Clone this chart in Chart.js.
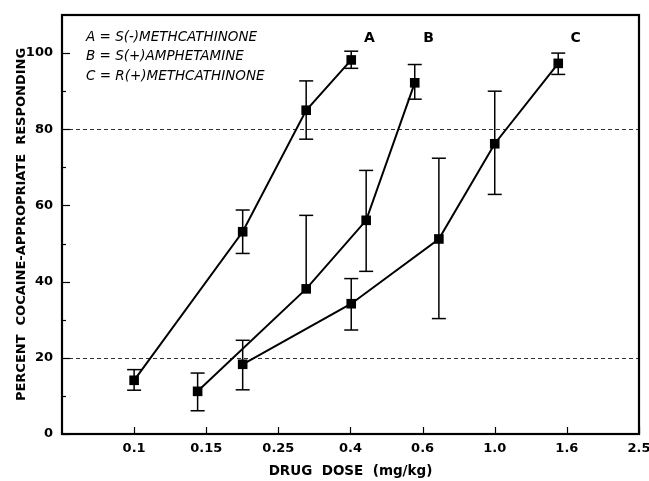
<!DOCTYPE html>
<html><head><meta charset="utf-8">
<script src="https://cdn.jsdelivr.net/npm/chart.js@4.4.1/dist/chart.umd.min.js"></script>
<style>html,body{margin:0;padding:0;background:#fff}#wrap{width:649px;height:481px;position:relative}</style>
</head><body><div id="wrap"><canvas id="c"></canvas></div>
<script>
// ---- data ----
const doseTickValues = [0.1, 0.1585, 0.2512, 0.3981, 0.631, 1.0, 1.585, 2.512];
const doseTickLabels = ['0.1', '0.15', '0.25', '0.4', '0.6', '1.0', '1.6', '2.5'];
const yTickValues = [0, 20, 40, 60, 80, 100];
const yMinorTickValues = [10, 30, 50, 70, 90];
const referenceLevels = [20, 80];
const seriesNames = ['A', 'B', 'C'];
const legendLines = ['A = S(-)METHCATHINONE', 'B = S(+)AMPHETAMINE', 'C = R(+)METHCATHINONE'];

const dosesA = [0.1, 0.2, 0.3, 0.4];
const valuesA = [14.1, 53.1, 85.0, 98.2];
const errUpA = [2.8, 5.7, 7.7, 2.3];
const errDownA = [2.6, 5.7, 7.6, 2.2];

const dosesB = [0.15, 0.3, 0.44, 0.6];
const valuesB = [11.2, 38.1, 56.1, 92.2];
const errUpB = [4.8, 19.3, 13.1, 4.8];
const errDownB = [5.1, 0, 13.4, 4.3];

const dosesC = [0.2, 0.4, 0.7, 1.0, 1.5];
const valuesC = [18.3, 34.2, 51.2, 76.2, 97.3];
const errUpC = [6.3, 6.6, 21.2, 13.8, 2.7];
const errDownC = [6.7, 6.9, 20.9, 13.3, 2.9];

// ---- build ----
const series = [
  {name: seriesNames[0], x: dosesA, y: valuesA, up: errUpA, dn: errDownA},
  {name: seriesNames[1], x: dosesB, y: valuesB, up: errUpB, dn: errDownB},
  {name: seriesNames[2], x: dosesC, y: valuesC, up: errUpC, dn: errDownC}
];
const FONT = 'DejaVu Sans';
Chart.defaults.font.family = FONT;
Chart.defaults.color = '#000';

const decor = {
  id: 'decor',
  beforeDatasetsDraw(chart) {
    const {ctx, chartArea: a, scales: {x, y}} = chart;
    ctx.save();
    ctx.strokeStyle = '#333';
    ctx.lineWidth = 1;
    ctx.setLineDash([4, 3]);
    referenceLevels.forEach(v => {
      const py = Math.round(y.getPixelForValue(v)) + 0.5;
      ctx.beginPath(); ctx.moveTo(a.left, py); ctx.lineTo(a.right, py); ctx.stroke();
    });
    ctx.setLineDash([]);
    // error bars
    ctx.strokeStyle = '#000';
    ctx.lineWidth = 1.5;
    series.forEach(s => {
      s.x.forEach((d, i) => {
        const px = x.getPixelForValue(d);
        const top = y.getPixelForValue(s.y[i] + s.up[i]);
        const bot = y.getPixelForValue(s.y[i] - s.dn[i]);
        ctx.beginPath(); ctx.moveTo(px, top); ctx.lineTo(px, bot); ctx.stroke();
        if (s.up[i] > 0) { ctx.beginPath(); ctx.moveTo(px - 7, top); ctx.lineTo(px + 7, top); ctx.stroke(); }
        if (s.dn[i] > 0) { ctx.beginPath(); ctx.moveTo(px - 7, bot); ctx.lineTo(px + 7, bot); ctx.stroke(); }
      });
    });
    ctx.restore();
  },
  afterDraw(chart) {
    const {ctx, chartArea: a, scales: {x, y}} = chart;
    ctx.save();
    ctx.strokeStyle = '#000';
    ctx.lineWidth = 2.2;
    ctx.strokeRect(a.left, a.top, a.right - a.left, a.bottom - a.top);
    ctx.lineWidth = 1.2;
    doseTickValues.forEach(v => {
      const px = Math.round(x.getPixelForValue(v)) + 0.5;
      ctx.beginPath(); ctx.moveTo(px, a.bottom); ctx.lineTo(px, a.bottom - 7); ctx.stroke();
    });
    yTickValues.forEach(v => {
      const py = Math.round(y.getPixelForValue(v)) + 0.5;
      ctx.beginPath(); ctx.moveTo(a.left, py); ctx.lineTo(a.left + 8, py); ctx.stroke();
    });
    yMinorTickValues.forEach(v => {
      const py = Math.round(y.getPixelForValue(v)) + 0.5;
      ctx.beginPath(); ctx.moveTo(a.left, py); ctx.lineTo(a.left + 4, py); ctx.stroke();
    });
    // legend text
    ctx.fillStyle = '#000';
    ctx.textBaseline = 'middle';
    ctx.textAlign = 'left';
    ctx.font = 'italic 13.5px "' + FONT + '"';
    legendLines.forEach((t, i) => ctx.fillText(t, a.left + 24, a.top + 22 + i * 19.7));
    // series labels
    ctx.font = 'bold 14px "' + FONT + '"';
    ctx.textAlign = 'center';
    const anchors = [0.449, 0.655, 1.675];
    seriesNames.forEach((n, i) => ctx.fillText(n, x.getPixelForValue(anchors[i]), y.getPixelForValue(103.9)));
    ctx.restore();
  }
};

new Chart(document.getElementById('c'), {
  type: 'line',
  data: {
    datasets: series.map(s => ({
      label: s.name,
      data: s.x.map((d, i) => ({x: d, y: s.y[i]})),
      borderColor: '#000',
      borderWidth: 2,
      pointStyle: 'rect',
      pointRadius: 6.8,
      pointBackgroundColor: '#000',
      pointBorderWidth: 0,
      tension: 0,
      fill: false
    }))
  },
  options: {
    responsive: true,
    maintainAspectRatio: false,
    animation: false,
    layout: {padding: {top: 15, right: 10, bottom: 0, left: 0}},
    plugins: {legend: {display: false}, tooltip: {enabled: false}},
    scales: {
      x: {
        type: 'logarithmic',
        min: 0.0631,
        max: 2.512,
        grid: {display: false, drawTicks: false},
        border: {display: false},
        afterBuildTicks: s => { s.ticks = doseTickValues.map(v => ({value: v})); },
        afterFit: s => { s.height = 47; s.paddingLeft = 0; s.paddingRight = 0; },
        ticks: {
          autoSkip: false, maxRotation: 0, padding: 7,
          font: {size: 13, weight: 'bold'},
          callback: (v, i) => doseTickLabels[i]
        },
        title: {display: true, text: 'DRUG  DOSE  (mg/kg)', font: {size: 13.5, weight: 'bold'}, padding: {top: 0, bottom: 1}}
      },
      y: {
        type: 'linear',
        min: 0,
        max: 110,
        grid: {display: false, drawTicks: false},
        border: {display: false},
        afterBuildTicks: s => { s.ticks = yTickValues.map(v => ({value: v})); },
        afterFit: s => { s.width = 62; s.paddingTop = 0; s.paddingBottom = 0; },
        ticks: {padding: 9, font: {size: 13, weight: 'bold'}, callback: v => String(v)},
        title: {display: true, text: 'PERCENT  COCAINE-APPROPRIATE  RESPONDING', font: {size: 13, weight: 'bold'}, padding: {top: 14, bottom: 0}}
      }
    }
  },
  plugins: [decor]
});
</script>
</body></html>
